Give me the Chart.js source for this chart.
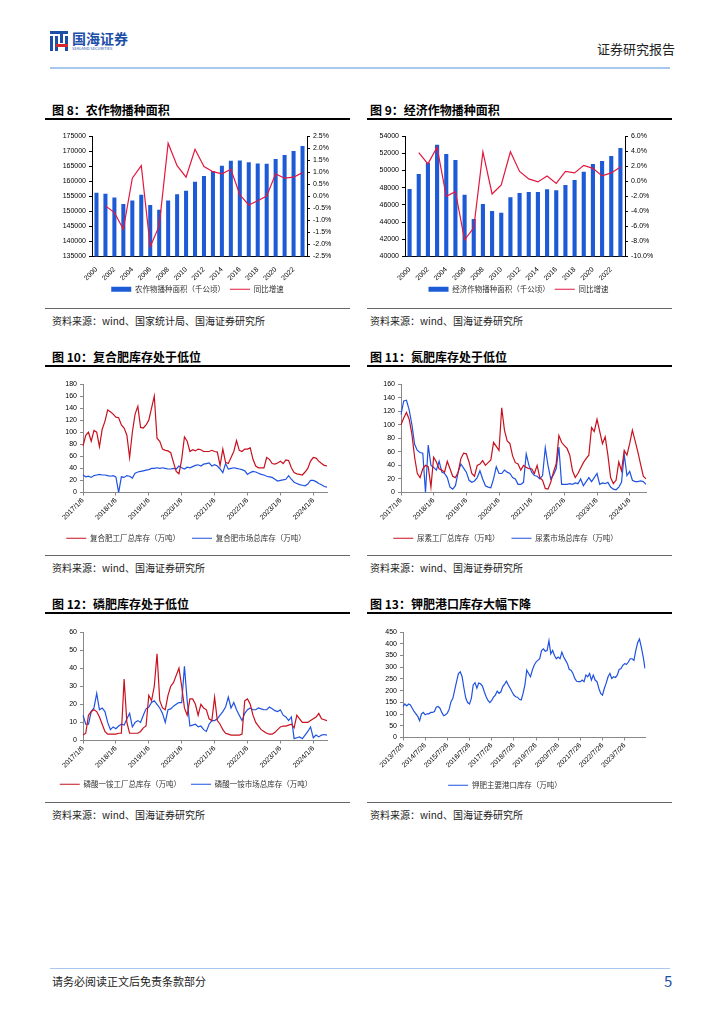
<!DOCTYPE html>
<html>
<head>
<meta charset="utf-8">
<script src="https://cdn.jsdelivr.net/npm/chart.js@4.4.1/dist/chart.umd.min.js"></script>
<style>
body{margin:0;background:#fff;width:724px;height:1024px;position:relative;overflow:hidden;font-family:"Noto Sans CJK SC",sans-serif}
.abs{position:absolute}
.title{font-size:12px;font-weight:bold;color:#000;line-height:16px}
.rule{height:1.5px;background:#000}
.src{font-size:10px;color:#222;line-height:14px}
.srcline{height:1px;background:#666}
.lg{background:#1d4fa8}
</style>
</head>
<body>
<!-- header -->
<div class="abs" style="left:50px;top:31px;width:18px;height:20px">
  <div class="abs lg" style="left:0;top:0;width:18px;height:3px"></div>
  <div class="abs lg" style="left:0;top:5px;width:3px;height:15px"></div>
  <div class="abs lg" style="left:5px;top:5px;width:3px;height:15px"></div>
  <div class="abs lg" style="left:10px;top:0;width:3px;height:12px"></div>
  <div class="abs lg" style="left:15px;top:5px;width:3px;height:15px"></div>
  <div class="abs" style="left:6px;top:13px;width:12px;height:3px;background:#d7282f"></div>
</div>
<div class="abs" style="left:72px;top:30px;font-size:14px;font-weight:bold;color:#1d4fa8;line-height:16px">国海证券</div>
<div class="abs" style="left:72px;top:46px;font-size:4px;color:#1d4fa8;line-height:5px">SEALAND SECURITIES</div>
<div class="abs" style="left:597px;top:40px;font-size:13px;color:#222;line-height:17px">证券研究报告</div>
<div class="abs" style="left:50px;top:67px;width:620px;height:2px;background:#a8c8f0"></div>

<!-- section 1 -->
<div class="abs title" style="left:52px;top:102px">图 8：农作物播种面积</div>
<div class="abs title" style="left:370px;top:102px">图 9：经济作物播种面积</div>
<div class="abs rule" style="left:45px;top:118px;width:305px"></div>
<div class="abs rule" style="left:367px;top:118px;width:305px"></div>
<div class="abs" style="left:45px;top:125px;width:305px;height:178px"><canvas id="c8"></canvas></div>
<div class="abs" style="left:365px;top:125px;width:307px;height:178px"><canvas id="c9"></canvas></div>
<div class="abs srcline" style="left:45px;top:308px;width:305px"></div>
<div class="abs srcline" style="left:367px;top:308px;width:305px"></div>
<div class="abs src" style="left:52px;top:314px">资料来源：wind、国家统计局、国海证券研究所</div>
<div class="abs src" style="left:370px;top:314px">资料来源：wind、国海证券研究所</div>

<!-- section 2 -->
<div class="abs title" style="left:52px;top:349px">图 10：复合肥库存处于低位</div>
<div class="abs title" style="left:370px;top:349px">图 11：氮肥库存处于低位</div>
<div class="abs rule" style="left:45px;top:365px;width:305px"></div>
<div class="abs rule" style="left:367px;top:365px;width:305px"></div>
<div class="abs" style="left:45px;top:376px;width:300px;height:176px"><canvas id="c10"></canvas></div>
<div class="abs" style="left:365px;top:376px;width:300px;height:176px"><canvas id="c11"></canvas></div>
<div class="abs srcline" style="left:45px;top:555px;width:305px"></div>
<div class="abs srcline" style="left:367px;top:555px;width:305px"></div>
<div class="abs src" style="left:52px;top:561px">资料来源：wind、国海证券研究所</div>
<div class="abs src" style="left:370px;top:561px">资料来源：wind、国海证券研究所</div>

<!-- section 3 -->
<div class="abs title" style="left:52px;top:596px">图 12：磷肥库存处于低位</div>
<div class="abs title" style="left:370px;top:596px">图 13：钾肥港口库存大幅下降</div>
<div class="abs rule" style="left:45px;top:612px;width:305px"></div>
<div class="abs rule" style="left:367px;top:612px;width:305px"></div>
<div class="abs" style="left:45px;top:624px;width:300px;height:174px"><canvas id="c12"></canvas></div>
<div class="abs" style="left:365px;top:624px;width:300px;height:175px"><canvas id="c13"></canvas></div>
<div class="abs srcline" style="left:45px;top:802px;width:305px"></div>
<div class="abs srcline" style="left:367px;top:802px;width:305px"></div>
<div class="abs src" style="left:52px;top:808px">资料来源：wind、国海证券研究所</div>
<div class="abs src" style="left:370px;top:808px">资料来源：wind、国海证券研究所</div>

<!-- footer -->
<div class="abs" style="left:50px;top:968px;width:620px;height:1px;background:#a8c8f0"></div>
<div class="abs" style="left:52px;top:974px;font-size:11px;color:#222;line-height:14px">请务必阅读正文后免责条款部分</div>
<div class="abs" style="left:664px;top:972px;font-size:15px;color:#1d4fa8;line-height:18px">5</div>

<script>
// years for fig 8 / 9
const years = ['2000','2001','2002','2003','2004','2005','2006','2007','2008','2009','2010','2011',
  '2012','2013','2014','2015','2016','2017','2018','2019','2020','2021','2022','2023'];

// fig 8
const area8 = [156200,155800,154600,152400,153600,155500,152100,150500,153600,155700,156800,159800,
  161700,163400,165100,166800,166900,166300,165900,165800,167400,168700,170000,171700];
const growth8 = [null,-0.40,-0.68,-1.37,0.75,1.27,-2.09,-1.23,2.20,1.27,0.79,1.95,
  1.23,1.02,0.93,1.12,0.06,-0.36,-0.19,0.01,0.93,0.75,0.79,0.98];

// fig 9
const area9 = [47850,49590,50900,52990,51910,51220,47160,44370,46110,45300,45070,46880,
  47390,47500,47500,47810,47700,48320,48900,49860,50750,51100,51680,52610];
const growth9 = [null,3.8,2.3,4.5,-2.0,-1.4,-7.8,-6.2,3.9,-1.7,-0.5,3.9,
  1.3,0.3,-0.1,0.7,-0.3,1.3,1.1,2.1,1.7,0.7,1.1,1.9];

// fig 10 (monthly from 2017/1)
const ticks17 = ['2017/1/6','2018/1/6','2019/1/6','2020/1/6','2021/1/6','2022/1/6','2023/1/6','2024/1/6'];
const npkFactory = [77,95,100,85,103,100,76,105,118,137,134,130,
  125,124,112,107,95,58,100,130,143,108,107,112,
  120,140,160,90,85,72,70,69,66,50,35,31,
  55,92,85,68,71,69,72,71,68,68,68,70,
  68,67,45,72,50,48,58,68,86,70,68,72,
  72,74,55,44,41,41,41,58,55,48,47,49,
  52,48,54,53,41,33,31,30,29,34,40,52,
  58,57,52,48,45,44];
const npkMarket = [29,26,27,25,28,29,30,29,29,28,27,28,
  26,0,26,25,28,27,24,32,34,35,36,37,
  38,40,40,41,40,41,40,39,39,40,39,44,
  41,39,42,41,43,45,46,44,47,48,49,44,
  46,44,39,33,48,39,40,41,40,39,38,36,
  30,33,35,34,32,30,29,27,26,25,22,19,
  20,21,22,28,22,17,15,13,12,11,14,20,
  20,18,15,13,10,9];

// fig 11
const ureaFactory = [100,110,118,108,86,52,28,22,35,40,38,8,
  52,45,35,33,30,46,35,24,22,30,50,58,
  57,45,28,24,40,42,47,40,44,48,74,68,
  62,125,92,76,72,54,44,42,33,40,37,35,
  35,28,40,22,18,6,5,15,30,42,84,74,
  69,65,55,32,22,28,36,44,50,55,96,90,
  108,90,72,82,55,22,13,18,45,32,62,55,
  72,92,76,60,42,24,20];
const ureaMarket = [115,135,136,122,100,71,62,59,58,0,70,40,
  37,33,46,30,28,22,8,5,10,30,42,36,
  30,18,15,17,22,32,20,10,8,7,20,38,
  28,28,33,30,28,22,20,12,12,15,57,40,
  30,25,24,20,25,66,40,20,26,35,67,12,
  12,12,13,12,14,13,20,10,16,22,16,22,
  28,12,14,13,15,8,5,4,8,15,56,25,
  31,18,16,16,17,16,12];

// fig 12
const mapFactory = [3,4,14,16,17,16,13,9,5,3.5,3.5,3.5,
  3.5,4,4,34,10,4,4,4,4,5,7,8,
  25,22,30,48,22,18,17,25,30,32,36,40,
  30,18,14,23,23,20,14,20,18,17,12,11,
  24,11,9,6,4,3.5,3,3,3,3,3.5,22,
  23,20,14,10,8,6,5,4,3.5,3.5,4.5,6,
  7.5,8,8,8.5,9,7,14,12,10,10,10,11,
  12,13,15,12,11.5,11];
const mapMarket = [14,9,9,16,18,26,17,18,16,10,6,7.5,
  6.5,8,9,8.5,12,15,7.5,10,11,10,14,17.5,
  18.5,21,22,20,18,15,10,17,17.5,19,20,21,
  21,41,22,8,8.5,9,7.5,8,6,5,9,11,
  11,12,14,16,18.5,24,18,21,17,14,11,15,
  17,18,17,17,18,17.5,17,17,18.5,17.5,16.5,16,
  17,14,13,11,13,1,1.5,2,1,3,5,7.5,
  1.5,3,2,3,3.3,3];

// fig 13 (monthly from 2013/7)
const ticks13 = ['2013/7/26','2014/7/26','2015/7/26','2016/7/26','2017/7/26','2018/7/26',
  '2019/7/26','2020/7/26','2021/7/26','2022/7/26','2023/7/26'];
const potashPort = [132,143,135,143,139,125,
  111,101,90,72,101,107,97,101,101,107,107,111,
  129,132,125,107,93,97,104,121,153,167,203,238,
  273,280,259,210,167,149,143,167,224,234,210,232,
  229,219,195,174,158,149,158,172,181,198,188,195,
  217,228,240,224,210,195,181,174,172,163,160,188,
  224,287,273,259,287,308,322,329,336,371,378,368,
  371,413,357,371,350,336,343,336,364,343,329,315,
  290,287,273,252,240,238,238,245,238,266,259,273,
  245,266,245,238,210,188,181,210,232,259,273,252,
  259,256,266,290,294,308,315,312,322,336,336,329,
  371,404,420,385,345,295];

function monthLabels(y, m, n) {
  const out = [];
  for (let i = 0; i < n; i++) {
    out.push(y + '/' + m);
    m++; if (m > 12) { m = 1; y++; }
  }
  return out;
}

Chart.defaults.font.family = '"Liberation Sans", Arial, sans-serif';
Chart.defaults.font.size = 7;
Chart.defaults.color = '#000';
Chart.defaults.animation = false;

const legendCfg = (pad) => ({
  position: 'bottom',
  labels: {
    usePointStyle: true, pointStyleWidth: 20, boxWidth: 20, boxHeight: 5, padding: pad,
    font: {family: '"Noto Sans CJK SC", sans-serif', size: 7.5}, color: '#333',
    sort: (a, b) => a.datasetIndex - b.datasetIndex
  }
});

function barLineChart(id, barLabel, bars, line, yMin, yMax, yStep, y1Min, y1Max, y1Step, lw, rw) {
  new Chart(document.getElementById(id), {
    type: 'bar',
    data: {
      labels: years,
      datasets: [
        {type: 'bar', label: barLabel, data: bars, backgroundColor: '#1d5bd6', pointStyle: 'rect',
         barPercentage: 0.45, categoryPercentage: 1, yAxisID: 'y', order: 1},
        {type: 'line', label: '同比增速', data: line, borderColor: '#e3173e', backgroundColor: '#e3173e',
         borderWidth: 1.2, pointRadius: 0, pointStyle: 'line', tension: 0, yAxisID: 'y1', order: 0}
      ]
    },
    options: {
      responsive: true, maintainAspectRatio: false,
      layout: {padding: {top: 11, left: 0, right: 0, bottom: 0}},
      plugins: {legend: legendCfg(5), tooltip: {enabled: false}},
      scales: {
        x: {grid: {display: false}, border: {color: '#000'},
            ticks: {autoSkip: false, minRotation: 45, maxRotation: 45, padding: 1,
                    callback: (v, i) => i % 2 === 0 ? years[i] : ''},
            afterFit: s => { s.height = 24; }},
        y: {position: 'left', min: yMin, max: yMax,
            ticks: {stepSize: yStep, padding: 3, callback: v => String(v)},
            grid: {drawOnChartArea: false, tickLength: 3, color: '#000'}, border: {color: '#000'},
            afterFit: s => { s.width = lw; }},
        y1: {position: 'right', min: y1Min, max: y1Max,
             ticks: {stepSize: y1Step, padding: 3, callback: v => v.toFixed(1) + '%'},
             grid: {drawOnChartArea: false, tickLength: 3, color: '#000'}, border: {color: '#000'},
             afterFit: s => { s.width = rw; }}
      }
    }
  });
}

barLineChart('c8', '农作物播种面积（千公顷）', area8, growth8, 135000, 175000, 5000, -2.5, 2.5, 0.5, 47, 43);
barLineChart('c9', '经济作物播种面积（千公顷）', area9, growth9, 40000, 54000, 2000, -10, 6, 2, 40, 47);

function lineChart(id, start, tickText, series, yMax, yStep, lw, padR, xh, legPad) {
  const n = series[0].data.length;
  const labels = monthLabels(start[0], start[1], n);
  new Chart(document.getElementById(id), {
    type: 'line',
    data: {
      labels: labels,
      datasets: series.map(s => ({label: s.label, data: s.data, borderColor: s.color, backgroundColor: s.color,
        borderWidth: 1.2, pointRadius: 0, pointStyle: 'line', tension: 0}))
    },
    options: {
      responsive: true, maintainAspectRatio: false,
      layout: {padding: {top: 8, left: 0, right: padR, bottom: 0}},
      plugins: {legend: legendCfg(legPad), tooltip: {enabled: false}},
      scales: {
        x: {grid: {drawOnChartArea: false, tickLength: 3, color: '#888'}, border: {color: '#888'},
            afterBuildTicks: s => { s.ticks = s.ticks.filter(t => t.value % 12 === 0); },
            ticks: {autoSkip: false, minRotation: 45, maxRotation: 45, padding: 1,
                    callback: v => tickText[v / 12]},
            afterFit: s => { s.height = xh; }},
        y: {min: 0, max: yMax,
            ticks: {stepSize: yStep, padding: 3},
            grid: {drawOnChartArea: false, tickLength: 3, color: '#888'}, border: {color: '#888'},
            afterFit: s => { s.width = lw; }}
      }
    }
  });
}

const RED = '#c8101e', BLUE = '#1f52e0';
lineChart('c10', [2017, 1], ticks17, [
  {label: '复合肥工厂总库存（万吨）', data: npkFactory, color: RED},
  {label: '复合肥市场总库存（万吨）', data: npkMarket, color: BLUE}], 180, 20, 38, 18, 30, 12);
lineChart('c11', [2017, 1], ticks17, [
  {label: '尿素工厂总库存（万吨）', data: ureaFactory, color: RED},
  {label: '尿素市场总库存（万吨）', data: ureaMarket, color: BLUE}], 160, 20, 36, 19, 30, 12);
lineChart('c12', [2017, 1], ticks17, [
  {label: '磷酸一铵工厂总库存（万吨）', data: mapFactory, color: RED},
  {label: '磷酸一铵市场总库存（万吨）', data: mapMarket, color: BLUE}], 60, 10, 38, 18, 30, 10);
lineChart('c13', [2013, 7], ticks13, [
  {label: '钾肥主要港口库存（万吨）', data: potashPort, color: BLUE}], 450, 50, 38, 20, 32, 12);
</script>
</body>
</html>
